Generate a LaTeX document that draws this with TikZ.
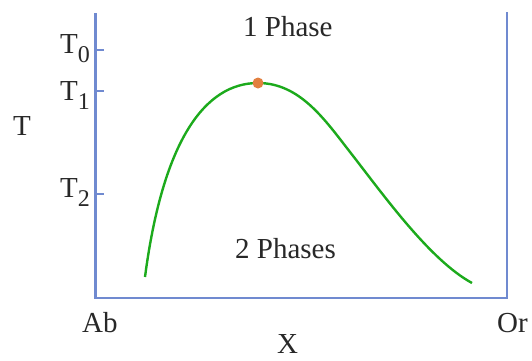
\documentclass[tikz,border=0pt]{standalone}
\usepackage{fontspec}
\setmainfont{Liberation Serif}
\definecolor{axisblue}{RGB}{112,138,208}
\definecolor{curvegreen}{RGB}{28,170,28}
\definecolor{dotorange}{RGB}{226,128,64}
\definecolor{txt}{RGB}{40,40,40}
\newcommand{\subsc}[1]{\raisebox{-9pt}{\fontsize{24}{24}\selectfont #1}}
\begin{document}
\begin{tikzpicture}[x=1pt,y=-1pt,
  axisline/.style={draw=axisblue,line width=2.4pt},
  lbl/.style={text=txt,font=\fontsize{29}{30}\selectfont,inner sep=0pt,anchor=base west},
  curveline/.style={draw=curvegreen,line width=2.4pt}]
\useasboundingbox (0,0) rectangle (532,360);
% axes
\coordinate (lt) at (95.5,13);
\coordinate (lb) at (95.5,298);
\coordinate (rb) at (507,298);
\coordinate (rt) at (507,12);
\draw[axisline] (lt) -- (lb) -- (rb) -- (rt);
% ticks
\coordinate (t0a) at (95.5,50); \coordinate (t0b) at (104,50);
\coordinate (t1a) at (95.5,91); \coordinate (t1b) at (104,91);
\coordinate (t2a) at (95.5,194); \coordinate (t2b) at (104,194);
\draw[axisline,line width=2pt] (t0a) -- (t0b);
\draw[axisline,line width=2pt] (t1a) -- (t1b);
\draw[axisline,line width=2pt] (t2a) -- (t2b);
% labels
\node[lbl] (T0) at (60,53) {T\subsc{0}};
\node[lbl] (T1) at (60,100) {T\subsc{1}};
\node[lbl] (T2) at (60,197) {T\subsc{2}};
\node[lbl] (T) at (13,135) {T};
\node[lbl] (p1) at (243,36) {1 Phase};
\node[lbl] (p2) at (235,258) {2 Phases};
\node[lbl] (ab) at (82,332) {Ab};
\node[lbl] (or) at (497,332) {Or};
\node[lbl] (X) at (277,353) {X};
% curve
\coordinate (cs) at (145,277);
\coordinate (cp) at (258,83);
\coordinate (ci) at (350,152);
\coordinate (ce) at (472,283);
\draw[curveline] (cs) .. controls (163,140) and (205,83) .. (cp)
  .. controls (300,83) and (325,120) .. (ci)
  .. controls (385,197) and (430,260) .. (ce);
\node[circle,fill=dotorange,inner sep=0pt,minimum size=11pt] (crit) at (cp) {};
\end{tikzpicture}
\end{document}
